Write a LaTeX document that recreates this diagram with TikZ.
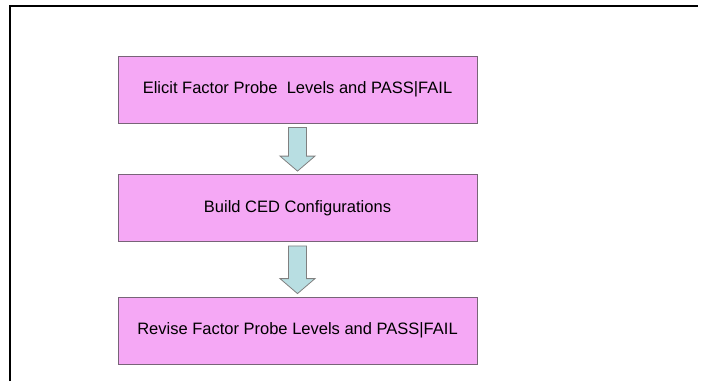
\documentclass[tikz,border=0pt]{standalone}
\usepackage{fontspec}
\setmainfont{Liberation Sans}
\usepackage{tikz}
\usetikzlibrary{positioning,calc}
\definecolor{boxpink}{RGB}{245,168,245}
\definecolor{boxline}{RGB}{120,100,120}
\definecolor{arrowblue}{RGB}{184,222,226}
\definecolor{arrowline}{RGB}{128,128,128}
\tikzset{
	etape/.style={draw=boxline,line width=0.8pt,fill=boxpink,minimum width=359pt,minimum height=67pt,inner sep=0pt,font=\fontsize{16.5}{18}\selectfont},
	fleche/.style={draw=arrowline,line width=0.8pt,fill=arrowblue,line join=miter}
}

\begin{document}
\begin{tikzpicture}[x=1pt,y=-1pt]
	\useasboundingbox (0,0) rectangle (706,381);
	\def\tige{9}
	\def\tete{17.5}
	
	%Cadre
	\draw[line width=1.5pt] (10,381) -- (10,6) -- (697,6);
	\draw[line width=2.5pt] (10,6) -- (27,6);
	\draw[line width=2.5pt] (692,6) -- (698,6);
	
	%Etapes
	\node[etape] (elicit) at (297.5,89.5) {Elicit Factor Probe\ \ Levels and PASS|FAIL};
	\node[etape] (build) at (297.5,208) {Build CED Configurations};
	\node[etape] (revise) at (297.5,330.5) {Revise Factor Probe Levels and PASS|FAIL};
	
	%Fleches
	\foreach \haut/\bas in {elicit/build,build/revise}{
		\coordinate (A) at ($(\haut.south)+(0,4)$);
		\coordinate (B) at ($(\bas.north)+(0,-3)$);
		\coordinate (C) at ($(B)+(0,-15)$);
		\draw[fleche] ($(A)+(-\tige,0)$) -- ($(A)+(\tige,0)$) -- ($(C)+(\tige,0)$) -- ($(C)+(\tete,0)$)
			-- (B) -- ($(C)+(-\tete,0)$) -- ($(C)+(-\tige,0)$) -- cycle;
	}
\end{tikzpicture}
\end{document}
